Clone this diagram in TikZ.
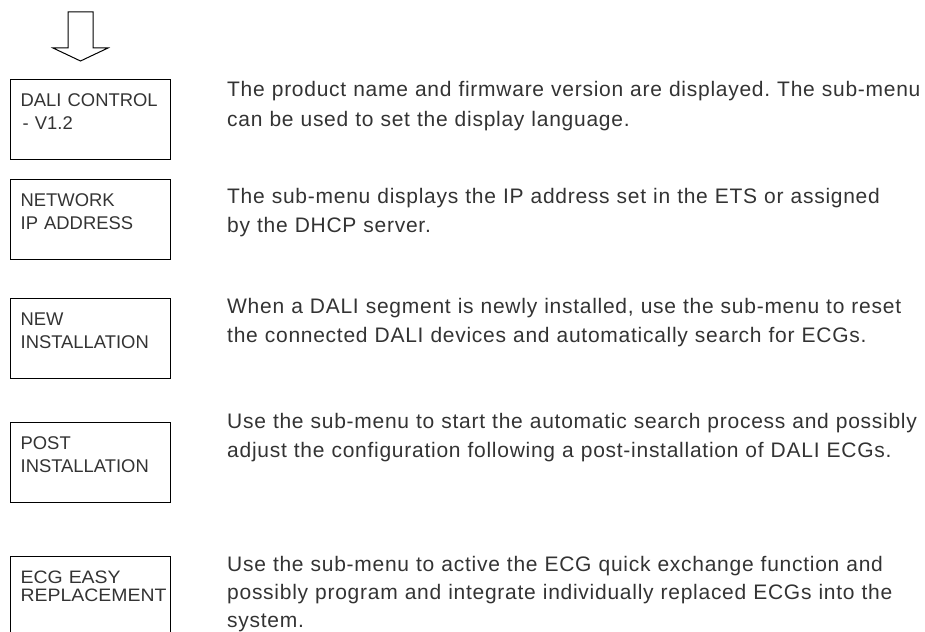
\documentclass[tikz,border=0pt]{standalone}
\usepackage{fontspec}
\setmainfont{Liberation Sans}
\newfontfamily\descfont[LetterSpace=3.5]{Liberation Sans}
\newfontfamily\boxfont{Liberation Sans}
\newfontfamily\widefont[FakeStretch=1.08]{Liberation Sans}
\definecolor{inkgray}{HTML}{333333}
\frenchspacing
\tikzset{
  menubox/.style={draw, line width=1.3pt, anchor=north west, align=left,
    text width=140pt, inner xsep=10pt, inner ysep=0pt,
    text height=27pt, text depth=53pt, text=inkgray,
    font=\boxfont\fontsize{18.4}{22.5}\selectfont},
  desc/.style={anchor=base west, align=left, text width=700pt, inner sep=0pt,
    text=inkgray, font=\descfont\fontsize{21}{29.5}\selectfont}
}
\begin{document}
\begin{tikzpicture}[x=1pt,y=-1pt]
		\useasboundingbox (0,0) rectangle (925,631);
		\clip (0,0) rectangle (925,631);
		% entry arrow
		\draw[line width=1pt] (68,12) -- (68,48) -- (53,48) -- (80.5,61) -- (108,48) -- (93,48) -- (93,12) -- cycle;
		% menu boxes
		\node[menubox] (ctrl) at (10,79) {DALI CONTROL\\\hspace*{2pt}- V1.2};
		\node[menubox] (net) at (10,179) {NETWORK\\IP ADDRESS};
		\node[menubox] (newinst) at (10,298) {NEW\\INSTALLATION};
		\node[menubox] (postinst) at (10,422) {POST\\INSTALLATION};
		\node[menubox,font=\widefont\fontsize{18}{17.5}\selectfont] (ecg) at (10,556) {ECG EASY\\REPLACEMENT};
		% descriptions
		\node[desc] (dctrl) at (227,97) {The product name and firmware version are displayed. The sub-menu\\can be used to set the display language.};
		\node[desc] (dnet) at (227,203) {The sub-menu displays the IP address set in the ETS or assigned\\by the DHCP server.};
		\node[desc] (dnew) at (227,313) {When a DALI segment is newly installed, use the sub-menu to reset\\the connected DALI devices and automatically search for ECGs.};
		\node[desc] (dpost) at (227,428) {Use the sub-menu to start the automatic search process and possibly\\adjust the configuration following a post-installation of DALI ECGs.};
		\node[desc,font=\descfont\fontsize{21}{28}\selectfont] (decg) at (227,571) {Use the sub-menu to active the ECG quick exchange function and\\possibly program and integrate individually replaced ECGs into the\\system.};
\end{tikzpicture}
\end{document}
